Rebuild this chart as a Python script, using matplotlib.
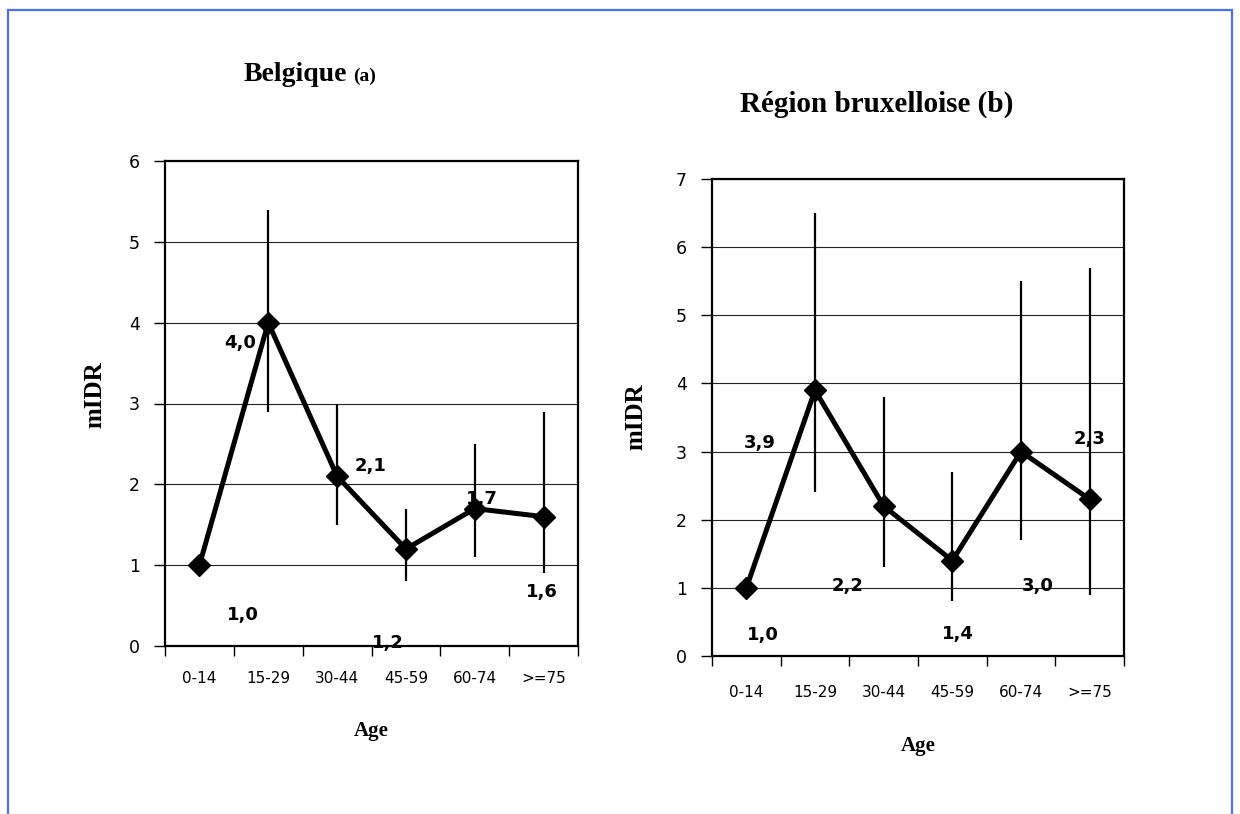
import matplotlib
matplotlib.use("Agg")
import matplotlib.pyplot as plt
from matplotlib.patches import Rectangle
import numpy as np

# ---- data -------------------------------------------------------------
age_groups = ["0-14", "15-29", "30-44", "45-59", "60-74", ">=75"]

be_midr = [1.0, 4.0, 2.1, 1.2, 1.7, 1.6]
be_low = [np.nan, 2.9, 1.5, 0.8, 1.1, 0.9]
be_high = [np.nan, 5.4, 3.0, 1.7, 2.5, 2.9]

bxl_midr = [1.0, 3.9, 2.2, 1.4, 3.0, 2.3]
bxl_low = [np.nan, 2.4, 1.3, 0.8, 1.7, 0.9]
bxl_high = [np.nan, 6.5, 3.8, 2.7, 5.5, 5.7]

# ---- layout of the value labels (data coordinates) ---------------------
be_label_xy = [(0.63, 0.38), (0.59, 3.75), (2.48, 2.23),
               (2.74, 0.04), (4.10, 1.82), (4.98, 0.67)]
bxl_label_xy = [(0.24, 0.31), (0.19, 3.12), (1.48, 1.02),
                (3.08, 0.33), (4.25, 1.03), (5.00, 3.18)]

W, H = 1240, 814
fig = plt.figure(figsize=(W / 100, H / 100), dpi=100)
fig.patch.set_facecolor("white")

# blue frame around the whole figure
frame = Rectangle((8 / W, -0.05), (1232 - 8) / W, (H - 10) / H + 0.05,
                  transform=fig.transFigure, fill=False,
                  edgecolor="#4a72f5", linewidth=1.6)
fig.add_artist(frame)

SERIF = ["Liberation Serif", "DejaVu Serif"]
SANS = ["DejaVu Sans"]


def px_axes(left, top, right, bottom):
    return fig.add_axes([left / W, (H - bottom) / H,
                         (right - left) / W, (bottom - top) / H])


def draw_panel(ax, values, low, high, ymax, label_xy, ylab_xy, xlab_xy, xpad):
    x = np.arange(len(age_groups))
    ax.set_xlim(-0.5, len(age_groups) - 0.5)
    ax.set_ylim(0, ymax)

    # horizontal gridlines
    ax.set_yticks(np.arange(0, ymax + 1))
    ax.yaxis.grid(True, color="#222222", linewidth=0.8)
    ax.set_axisbelow(True)

    # confidence intervals
    ax.vlines(x, low, high, color="black", linewidth=1.6, zorder=3)
    # mIDR line with diamond markers
    ax.plot(x, values, color="black", linewidth=3.6, marker="D",
            markersize=11, zorder=4)

    for (lx, ly), v in zip(label_xy, values):
        ax.text(lx, ly, f"{v:.1f}".replace(".", ","), ha="center",
                va="center", fontsize=13, fontweight="bold",
                family=SANS, zorder=5)

    # category labels between boundary tick marks
    ax.set_xticks(x)
    ax.set_xticklabels(age_groups, fontsize=11, family=SANS)
    ax.tick_params(axis="x", which="major", length=0, pad=xpad)
    ax.set_xticks(np.arange(-0.5, len(age_groups)), minor=True)
    ax.tick_params(axis="x", which="minor", length=7, width=1.0,
                   direction="out", color="black")
    ax.tick_params(axis="y", length=8, width=1.0, direction="out",
                   labelsize=12.5, pad=10, color="black")
    for t in ax.get_yticklabels():
        t.set_family(SANS)

    for s in ax.spines.values():
        s.set_linewidth(1.6)
        s.set_color("black")

    ax.set_ylabel("mIDR", fontsize=18, fontweight="bold", family=SERIF)
    ax.yaxis.set_label_coords(*ylab_xy)
    ax.set_xlabel("Age", fontsize=15, fontweight="bold", family=SERIF)
    ax.xaxis.set_label_coords(*xlab_xy)


ax1 = px_axes(165, 161, 578, 646)
draw_panel(ax1, be_midr, be_low, be_high, 6, be_label_xy,
           (-0.143, 0.518), (0.5, -0.154), 18)

ax2 = px_axes(712, 179, 1124, 656)
draw_panel(ax2, bxl_midr, bxl_low, bxl_high, 7, bxl_label_xy,
           (-0.156, 0.501), (0.5, -0.168), 21)

# panel titles
fig.text(347 / W, (H - 81) / H, "Belgique", ha="right", va="baseline",
         fontsize=20, fontweight="bold", family=SERIF)
fig.text(353 / W, (H - 81) / H, "(a)", ha="left", va="baseline",
         fontsize=14, fontweight="bold", family=SERIF)
fig.text(877 / W, (H - 112) / H, "Région bruxelloise (b)", ha="center",
         va="baseline", fontsize=21, fontweight="bold", family=SERIF)

fig.savefig("out.png", dpi=100, facecolor="white")
